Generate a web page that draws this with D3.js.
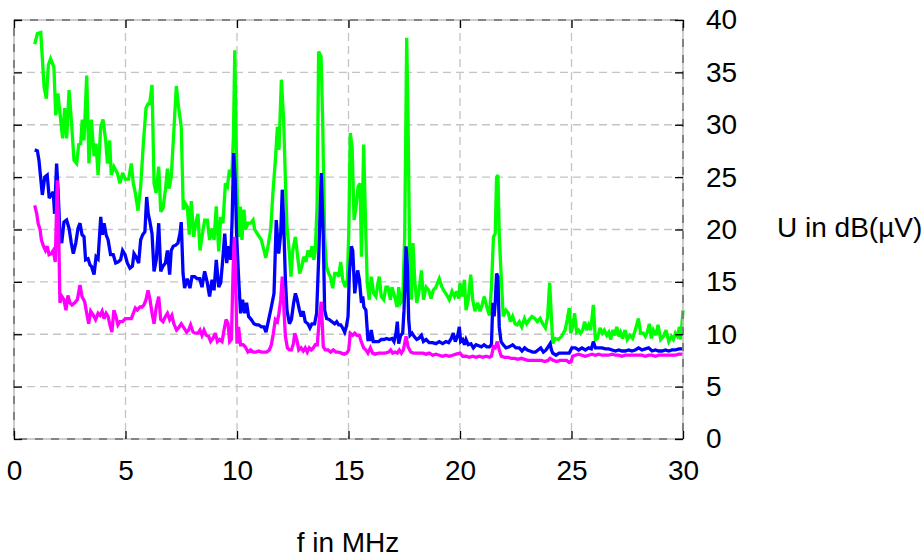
<!DOCTYPE html>
<html>
<head>
<meta charset="utf-8">
<script src="https://cdn.jsdelivr.net/npm/d3@7"></script>
<style>
  html, body { margin: 0; padding: 0; background: #fff; }
  svg { display: block; }
  text { font-family: "Liberation Sans", Arial, sans-serif; }
</style>
</head>
<body>
<svg id="chart" width="924" height="558"></svg>
<script>
// Axis setup
const xDomain = [0, 30];
const yDomain = [0, 40];
const xTickValues = [0, 5, 10, 15, 20, 25, 30];
const yTickValues = [0, 5, 10, 15, 20, 25, 30, 35, 40];
const xAxisTitle = "f in MHz";
const yAxisTitle = "U in dB(µV)";

// Spectrum traces: [frequency in MHz, level in dB(µV)]
const greenTrace = [
  [0.93,37.7],[1.05,38.7],[1.2,38.8],[1.35,33.6],[1.45,32.5],[1.54,35.7],[1.64,36.3],[1.79,35.5],[1.87,30.9],[1.97,33.0],
  [2.09,30.5],[2.18,28.7],[2.27,31.6],[2.36,28.7],[2.47,33.3],[2.57,30.5],[2.69,26.6],[2.81,26.3],[2.9,28.1],[2.99,28.2],
  [3.06,30.5],[3.14,28.5],[3.26,34.7],[3.36,26.3],[3.47,30.5],[3.59,27.0],[3.68,28.2],[3.77,25.2],[3.89,29.8],[3.99,30.5],
  [4.11,28.5],[4.19,26.3],[4.29,28.5],[4.36,25.2],[4.48,26.0],[4.63,25.4],[4.75,24.4],[4.87,25.4],[4.99,24.8],[5.14,24.8],
  [5.26,26.3],[5.35,24.4],[5.44,23.5],[5.56,21.8],[5.68,24.1],[5.8,28.2],[5.92,31.6],[6.01,32.0],[6.08,32.0],[6.19,33.8],
  [6.28,24.4],[6.37,23.5],[6.49,26.0],[6.58,21.7],[6.68,22.0],[6.79,23.8],[6.88,25.8],[6.95,23.9],[7.05,25.0],[7.17,29.5],
  [7.28,33.7],[7.38,31.7],[7.5,29.8],[7.59,21.9],[7.68,22.5],[7.77,22.2],[7.86,19.5],[7.95,22.7],[8.06,19.3],[8.15,20.6],
  [8.25,21.5],[8.34,18.0],[8.45,19.6],[8.55,20.9],[8.67,20.9],[8.77,19.0],[8.88,20.1],[8.97,19.0],[9.07,22.2],[9.18,17.9],
  [9.27,21.2],[9.37,20.6],[9.48,24.4],[9.57,24.1],[9.66,25.7],[9.72,25.0],[9.78,25.8],[9.84,28.9],[9.9,37.1],[9.96,28.9],
  [10.02,22.2],[10.08,19.3],[10.15,22.2],[10.22,19.0],[10.31,21.9],[10.39,20.0],[10.49,20.6],[10.61,20.6],[10.72,20.9],[10.79,20.0],
  [10.94,19.5],[11.09,19.0],[11.21,18.0],[11.29,17.3],[11.39,18.4],[11.51,20.0],[11.61,23.5],[11.72,26.6],[11.81,29.8],[11.88,27.6],
  [11.99,34.3],[12.09,30.5],[12.17,24.7],[12.24,20.3],[12.35,17.7],[12.42,15.5],[12.5,18.0],[12.62,19.3],[12.72,17.4],[12.81,15.8],
  [12.91,16.5],[12.99,17.4],[13.09,16.9],[13.18,18.0],[13.29,17.4],[13.36,18.4],[13.45,17.1],[13.51,18.0],[13.59,22.2],[13.66,37.0],
  [13.77,36.5],[13.84,30.5],[13.93,19.3],[14.01,16.5],[14.11,15.8],[14.19,15.5],[14.29,14.4],[14.38,15.8],[14.48,15.8],[14.56,15.5],
  [14.65,16.9],[14.74,15.2],[14.86,14.5],[14.95,15.2],[15.01,19.6],[15.08,29.2],[15.16,27.9],[15.25,20.9],[15.34,22.2],[15.43,24.1],
  [15.52,24.4],[15.58,17.4],[15.68,28.1],[15.76,20.9],[15.84,14.9],[15.93,13.3],[16.02,15.5],[16.13,13.9],[16.23,13.6],[16.32,14.9],
  [16.38,15.5],[16.47,13.6],[16.58,13.3],[16.68,14.5],[16.77,14.5],[16.88,13.3],[16.95,14.5],[17.07,13.6],[17.18,12.6],[17.25,14.5],
  [17.34,13.0],[17.43,13.3],[17.52,19.3],[17.61,38.3],[17.67,30.5],[17.74,17.7],[17.82,13.3],[17.89,18.7],[17.97,15.2],[18.06,13.0],
  [18.15,13.9],[18.27,16.1],[18.36,13.3],[18.48,14.5],[18.6,14.2],[18.7,13.4],[18.8,14.2],[18.92,14.5],[19.07,15.3],[19.19,14.5],
  [19.3,14.1],[19.42,13.7],[19.52,13.3],[19.64,14.1],[19.75,13.6],[19.85,14.1],[19.94,13.4],[20.0,14.9],[20.09,13.6],[20.2,15.2],
  [20.27,12.3],[20.37,13.3],[20.48,15.7],[20.57,13.3],[20.67,12.2],[20.79,13.0],[20.9,12.2],[20.99,12.8],[21.09,13.6],[21.2,12.6],
  [21.32,11.8],[21.41,14.5],[21.5,19.3],[21.58,19.6],[21.64,25.0],[21.7,25.2],[21.76,19.6],[21.84,15.8],[21.94,11.7],[22.06,12.3],
  [22.17,12.0],[22.26,11.2],[22.36,11.7],[22.47,11.0],[22.56,10.9],[22.66,11.2],[22.77,10.7],[22.89,11.5],[22.99,11.0],[23.11,11.4],
  [23.23,11.7],[23.35,11.5],[23.47,11.2],[23.59,11.5],[23.71,11.0],[23.83,10.6],[23.93,11.7],[24.02,14.9],[24.16,9.1],[24.26,9.6],
  [24.41,9.5],[24.56,9.8],[24.71,10.4],[24.81,11.4],[24.9,12.5],[24.96,10.1],[25.05,10.7],[25.14,12.0],[25.23,10.2],[25.32,10.4],
  [25.41,10.1],[25.5,10.4],[25.59,11.2],[25.68,10.4],[25.77,10.9],[25.86,10.4],[25.98,12.8],[26.07,9.5],[26.16,9.6],[26.28,10.6],
  [26.38,10.1],[26.47,10.4],[26.58,9.9],[26.67,10.2],[26.76,9.5],[26.85,10.4],[26.94,9.9],[27.03,10.7],[27.12,9.8],[27.2,10.2],
  [27.29,9.6],[27.4,10.4],[27.5,9.5],[27.62,9.9],[27.74,9.6],[27.86,10.4],[28.0,11.5],[28.1,10.1],[28.22,10.1],[28.31,9.8],
  [28.4,10.2],[28.49,11.0],[28.58,9.6],[28.67,10.4],[28.79,9.9],[28.88,10.9],[29.0,9.5],[29.12,9.8],[29.24,10.4],[29.36,9.3],
  [29.48,9.8],[29.57,9.5],[29.66,10.1],[29.75,9.8],[29.84,10.7],[29.9,9.5],[30.0,12.3]
];

const blueTrace = [
  [0.93,27.6],[1.05,27.5],[1.12,26.6],[1.27,23.3],[1.38,25.0],[1.49,25.2],[1.58,23.0],[1.67,23.3],[1.76,23.6],[1.82,21.5],
  [1.91,26.3],[1.97,24.1],[2.06,19.6],[2.14,18.7],[2.24,20.7],[2.36,20.9],[2.47,20.1],[2.57,18.7],[2.66,17.7],[2.77,18.7],
  [2.87,20.1],[2.96,20.6],[3.05,19.5],[3.14,19.3],[3.21,17.1],[3.32,17.2],[3.41,16.6],[3.47,16.5],[3.59,15.7],[3.68,17.4],
  [3.77,17.2],[3.89,21.2],[3.96,19.5],[4.04,20.6],[4.13,19.5],[4.22,19.0],[4.33,17.6],[4.45,17.6],[4.56,16.8],[4.66,16.9],
  [4.78,17.1],[4.87,18.0],[4.98,17.6],[5.08,16.8],[5.2,16.3],[5.31,16.5],[5.38,17.7],[5.47,17.4],[5.59,16.8],[5.68,19.0],
  [5.77,19.5],[5.87,19.8],[5.95,23.1],[6.02,21.5],[6.08,20.9],[6.19,19.6],[6.28,16.0],[6.38,17.1],[6.49,20.6],[6.58,16.0],
  [6.68,16.5],[6.79,16.8],[6.88,18.0],[6.98,15.7],[7.05,18.0],[7.14,18.4],[7.25,18.5],[7.35,18.7],[7.44,19.6],[7.5,20.7],
  [7.58,15.8],[7.65,14.4],[7.77,15.3],[7.89,14.4],[7.98,15.5],[8.1,15.5],[8.22,15.3],[8.33,15.3],[8.43,14.5],[8.55,16.0],
  [8.67,14.9],[8.77,13.6],[8.88,15.2],[8.97,14.2],[9.07,17.1],[9.18,14.5],[9.27,14.9],[9.36,17.1],[9.45,19.6],[9.54,16.8],
  [9.63,18.4],[9.72,17.1],[9.78,20.9],[9.85,27.3],[9.92,24.7],[9.98,19.6],[10.07,15.5],[10.16,12.0],[10.25,13.3],[10.34,12.0],
  [10.43,13.0],[10.52,11.7],[10.64,11.4],[10.76,11.0],[10.87,10.9],[10.97,10.9],[11.09,10.7],[11.21,10.7],[11.3,10.2],[11.42,11.4],
  [11.54,12.6],[11.66,13.9],[11.76,20.9],[11.87,17.7],[11.96,19.6],[12.03,23.8],[12.09,20.9],[12.17,15.2],[12.24,12.3],[12.35,11.0],
  [12.44,11.4],[12.54,13.0],[12.62,13.9],[12.69,13.4],[12.8,12.3],[12.88,11.7],[12.97,12.2],[13.06,11.2],[13.18,11.0],[13.27,10.6],
  [13.36,11.0],[13.48,11.0],[13.57,12.0],[13.66,17.1],[13.78,25.4],[13.87,19.3],[13.93,12.3],[14.02,11.5],[14.14,11.4],[14.26,11.2],
  [14.38,11.0],[14.47,11.2],[14.56,10.9],[14.65,10.9],[14.74,10.6],[14.83,10.2],[14.9,10.7],[14.98,11.7],[15.04,15.8],[15.13,18.4],
  [15.19,18.0],[15.28,13.9],[15.34,14.9],[15.41,16.1],[15.49,15.2],[15.58,13.0],[15.64,13.6],[15.69,12.6],[15.78,12.3],[15.87,9.5],
  [15.96,9.5],[16.02,10.4],[16.11,9.3],[16.23,9.3],[16.35,9.3],[16.47,9.5],[16.59,9.5],[16.71,9.6],[16.83,9.5],[16.95,9.6],
  [17.04,9.3],[17.13,10.1],[17.19,11.2],[17.25,9.1],[17.34,9.9],[17.43,10.1],[17.49,12.3],[17.58,18.4],[17.64,16.5],[17.7,11.4],
  [17.76,9.9],[17.85,10.1],[17.94,9.8],[18.06,9.5],[18.15,9.6],[18.27,9.9],[18.36,9.3],[18.48,9.5],[18.62,9.2],[18.77,9.2],
  [18.92,9.1],[19.07,9.3],[19.22,9.1],[19.37,9.3],[19.49,9.2],[19.61,9.6],[19.7,10.1],[19.79,9.3],[19.9,9.9],[19.97,10.7],
  [20.03,9.3],[20.12,9.5],[20.2,9.0],[20.27,9.5],[20.37,9.0],[20.49,9.1],[20.6,8.7],[20.72,9.0],[20.84,8.9],[20.96,8.8],
  [21.08,9.0],[21.2,8.8],[21.32,8.8],[21.41,9.0],[21.47,13.0],[21.53,11.7],[21.58,13.0],[21.64,15.8],[21.7,15.5],[21.76,10.7],
  [21.84,9.3],[21.94,9.0],[22.06,8.7],[22.21,8.8],[22.36,9.0],[22.51,8.7],[22.66,8.7],[22.78,8.4],[22.9,8.7],[23.02,8.5],
  [23.14,8.4],[23.26,8.3],[23.38,8.3],[23.5,8.5],[23.62,8.7],[23.74,8.3],[23.86,8.5],[23.95,8.8],[24.04,9.1],[24.1,8.5],
  [24.16,8.2],[24.3,8.0],[24.45,8.2],[24.6,8.2],[24.75,8.2],[24.9,8.2],[25.02,8.7],[25.17,8.7],[25.32,8.5],[25.47,8.7],
  [25.62,8.5],[25.77,8.7],[25.89,8.6],[25.98,9.3],[26.07,8.7],[26.22,8.7],[26.37,8.7],[26.52,8.6],[26.67,8.6],[26.82,8.5],
  [26.97,8.4],[27.12,8.5],[27.26,8.4],[27.41,8.4],[27.56,8.5],[27.71,8.4],[27.86,8.5],[28.01,8.7],[28.16,8.5],[28.31,8.6],
  [28.46,8.7],[28.61,8.4],[28.76,8.5],[28.91,8.4],[29.06,8.4],[29.21,8.5],[29.36,8.4],[29.51,8.5],[29.66,8.5],[29.81,8.6],
  [30.0,8.6]
];

const magentaTrace = [
  [0.93,22.3],[1.02,21.5],[1.08,20.6],[1.17,20.0],[1.23,19.0],[1.32,18.4],[1.41,18.0],[1.49,18.4],[1.57,17.6],[1.67,17.7],
  [1.76,18.0],[1.85,16.9],[1.94,24.7],[2.0,20.3],[2.06,13.0],[2.15,13.6],[2.24,13.3],[2.33,12.3],[2.42,13.7],[2.51,13.0],
  [2.6,12.8],[2.72,13.0],[2.84,13.3],[2.96,14.7],[3.05,13.6],[3.17,13.1],[3.26,12.0],[3.35,11.0],[3.44,12.2],[3.56,11.8],
  [3.66,11.4],[3.77,12.0],[3.86,11.8],[3.95,12.2],[4.04,11.5],[4.13,12.0],[4.22,11.7],[4.3,10.9],[4.39,10.2],[4.48,12.3],
  [4.57,11.7],[4.66,10.9],[4.75,11.2],[4.87,11.2],[4.99,11.5],[5.14,11.5],[5.26,11.5],[5.35,12.0],[5.44,12.5],[5.53,12.3],
  [5.65,12.6],[5.74,12.6],[5.83,12.8],[5.92,13.3],[6.01,14.2],[6.1,13.3],[6.19,12.0],[6.28,11.0],[6.38,12.6],[6.49,13.6],
  [6.58,11.4],[6.68,11.2],[6.79,11.7],[6.88,12.0],[6.98,11.4],[7.08,11.8],[7.17,11.0],[7.29,10.4],[7.38,10.6],[7.5,11.0],
  [7.62,10.6],[7.74,10.2],[7.83,10.4],[7.92,10.9],[8.03,10.2],[8.13,10.1],[8.25,10.1],[8.34,10.4],[8.43,9.9],[8.52,10.4],
  [8.62,9.9],[8.73,9.8],[8.82,9.3],[8.92,9.6],[9.03,10.1],[9.12,9.3],[9.22,9.5],[9.33,9.3],[9.42,10.4],[9.51,11.4],
  [9.6,11.0],[9.67,9.3],[9.75,9.5],[9.82,15.8],[9.88,19.3],[9.94,15.2],[10.0,9.1],[10.07,10.7],[10.16,9.0],[10.27,9.0],
  [10.37,8.8],[10.49,8.3],[10.61,8.5],[10.73,8.3],[10.85,8.3],[10.97,8.4],[11.09,8.3],[11.21,8.3],[11.33,8.3],[11.45,8.5],
  [11.54,9.0],[11.63,10.1],[11.72,11.4],[11.81,11.2],[11.88,12.0],[11.96,13.3],[12.03,15.5],[12.09,13.0],[12.17,9.8],[12.26,8.7],
  [12.35,8.5],[12.44,8.5],[12.53,9.1],[12.59,10.1],[12.68,9.5],[12.77,8.5],[12.87,8.7],[12.97,8.4],[13.06,8.7],[13.15,8.3],
  [13.24,8.7],[13.33,8.5],[13.42,8.7],[13.51,9.0],[13.6,9.0],[13.69,11.4],[13.78,13.1],[13.87,8.8],[13.96,8.5],[14.08,8.5],
  [14.2,8.3],[14.32,8.5],[14.44,8.3],[14.56,8.3],[14.68,8.2],[14.8,8.1],[14.92,8.2],[15.01,8.5],[15.08,10.1],[15.19,9.9],
  [15.28,10.1],[15.37,9.9],[15.49,9.9],[15.57,9.3],[15.68,8.7],[15.78,8.5],[15.87,8.2],[15.98,8.7],[16.08,8.2],[16.2,8.1],
  [16.35,8.2],[16.5,8.2],[16.65,8.2],[16.8,8.3],[16.89,8.5],[16.98,8.2],[17.1,8.3],[17.19,8.2],[17.28,8.5],[17.37,8.2],
  [17.46,8.5],[17.58,9.8],[17.67,8.8],[17.79,8.3],[17.91,8.2],[18.06,8.2],[18.18,8.2],[18.33,8.2],[18.48,8.1],[18.62,8.2],
  [18.77,8.0],[18.92,8.1],[19.07,8.0],[19.22,7.9],[19.37,8.0],[19.52,7.9],[19.67,8.0],[19.82,8.1],[20.0,8.2],[20.12,7.9],
  [20.27,7.9],[20.42,7.8],[20.57,7.9],[20.72,7.8],[20.87,7.9],[21.02,7.8],[21.17,7.9],[21.32,7.8],[21.41,7.9],[21.5,8.8],
  [21.58,8.7],[21.67,9.3],[21.76,8.5],[21.85,7.9],[22.0,7.8],[22.15,7.8],[22.3,7.7],[22.45,7.7],[22.6,7.6],[22.75,7.7],
  [22.9,7.6],[23.05,7.5],[23.2,7.5],[23.35,7.5],[23.5,7.5],[23.65,7.5],[23.8,7.4],[23.95,7.5],[24.04,7.7],[24.19,7.5],
  [24.34,7.4],[24.48,7.5],[24.63,7.5],[24.78,7.5],[24.9,7.3],[24.99,7.4],[25.05,7.9],[25.17,8.0],[25.32,8.1],[25.47,8.0],
  [25.62,7.9],[25.77,8.0],[25.92,8.1],[26.07,8.0],[26.22,8.1],[26.37,8.0],[26.52,8.0],[26.67,8.0],[26.82,8.1],[26.97,8.0],
  [27.12,8.0],[27.26,7.9],[27.41,8.0],[27.56,8.0],[27.71,8.0],[27.86,8.0],[28.01,8.0],[28.16,8.0],[28.31,7.9],[28.46,8.0],
  [28.61,8.0],[28.76,7.9],[28.91,8.0],[29.06,8.0],[29.21,8.0],[29.36,8.0],[29.51,8.0],[29.66,8.0],[29.81,8.1],[30.0,8.1]
];

const traces = [
  { data: greenTrace, color: "#00ff00" },
  { data: blueTrace, color: "#0000ff" },
  { data: magentaTrace, color: "#ff00ff" }
];

const svg = d3.select("#chart");
const plot = { left: 14, right: 683, top: 20, bottom: 439 };

const x = d3.scaleLinear().domain(xDomain).range([plot.left, plot.right]);
const y = d3.scaleLinear().domain(yDomain).range([plot.bottom, plot.top]);

// Dashed grid
const grid = svg.append("g").attr("class", "grid");
grid.selectAll("line.gx")
  .data(xTickValues.filter(v => v > xDomain[0] && v < xDomain[1]))
  .join("line")
  .attr("x1", d => x(d)).attr("x2", d => x(d))
  .attr("y1", plot.top).attr("y2", plot.bottom)
  .attr("stroke", "#c4c4c4").attr("stroke-width", 1.3)
  .attr("stroke-dasharray", "8,5");
grid.selectAll("line.gy")
  .data(yTickValues.filter(v => v > yDomain[0] && v < yDomain[1]))
  .join("line")
  .attr("x1", plot.left).attr("x2", plot.right)
  .attr("y1", d => y(d)).attr("y2", d => y(d))
  .attr("stroke", "#c4c4c4").attr("stroke-width", 1.3)
  .attr("stroke-dasharray", "8,5");

// Traces
const line = d3.line().x(d => x(d[0])).y(d => y(d[1]));
svg.append("g").attr("class", "traces")
  .selectAll("path")
  .data(traces)
  .join("path")
  .attr("d", d => line(d.data))
  .attr("fill", "none")
  .attr("stroke", d => d.color)
  .attr("stroke-width", 3.3)
  .attr("stroke-linejoin", "miter")
  .attr("stroke-miterlimit", 3);

// Frame: light base with darker dashes
const frame = svg.append("g").attr("class", "frame");
frame.append("rect")
  .attr("x", plot.left).attr("y", plot.top)
  .attr("width", plot.right - plot.left).attr("height", plot.bottom - plot.top)
  .attr("fill", "none").attr("stroke", "#c0c0c0").attr("stroke-width", 1.6);
frame.append("rect")
  .attr("x", plot.left).attr("y", plot.top)
  .attr("width", plot.right - plot.left).attr("height", plot.bottom - plot.top)
  .attr("fill", "none").attr("stroke", "#6e6e6e").attr("stroke-width", 1.6)
  .attr("stroke-dasharray", "8,8");

// Inward ticks on all four sides
const tickLen = 8;
const inner = svg.append("g").attr("class", "ticks");
inner.append("g").attr("transform", `translate(0,${plot.bottom})`)
  .call(d3.axisTop(x).tickValues(xTickValues).tickSize(tickLen).tickFormat(""));
inner.append("g").attr("transform", `translate(0,${plot.top})`)
  .call(d3.axisBottom(x).tickValues(xTickValues).tickSize(tickLen).tickFormat(""));
inner.append("g").attr("transform", `translate(${plot.left},0)`)
  .call(d3.axisRight(y).tickValues(yTickValues).tickSize(tickLen).tickFormat(""));
inner.append("g").attr("transform", `translate(${plot.right},0)`)
  .call(d3.axisLeft(y).tickValues(yTickValues).tickSize(tickLen).tickFormat(""));
inner.selectAll(".domain").remove();
inner.selectAll(".tick line").attr("stroke", "#000").attr("stroke-width", 1.3);

// Tick labels
const labelFont = 28;
const xLabels = svg.append("g")
  .attr("transform", `translate(0,${plot.bottom})`)
  .call(d3.axisBottom(x).tickValues(xTickValues).tickSize(0).tickPadding(21).tickFormat(d3.format("d")));
const yLabels = svg.append("g")
  .attr("transform", `translate(${plot.right},0)`)
  .call(d3.axisRight(y).tickValues(yTickValues).tickSize(0).tickPadding(23).tickFormat(d3.format("d")));
[xLabels, yLabels].forEach(g => {
  g.select(".domain").remove();
  g.selectAll("text")
    .attr("font-size", labelFont)
    .attr("font-family", "'Liberation Sans', Arial, sans-serif")
    .attr("fill", "#000");
});

// Axis titles
svg.append("text")
  .attr("x", 348).attr("y", 545)
  .attr("text-anchor", "middle").attr("dominant-baseline", "middle")
  .attr("font-size", labelFont).attr("fill", "#000")
  .text(xAxisTitle);
svg.append("text")
  .attr("x", 777).attr("y", y(20))
  .attr("text-anchor", "start").attr("dominant-baseline", "middle")
  .attr("font-size", labelFont).attr("fill", "#000")
  .text(yAxisTitle);
</script>
</body>
</html>
